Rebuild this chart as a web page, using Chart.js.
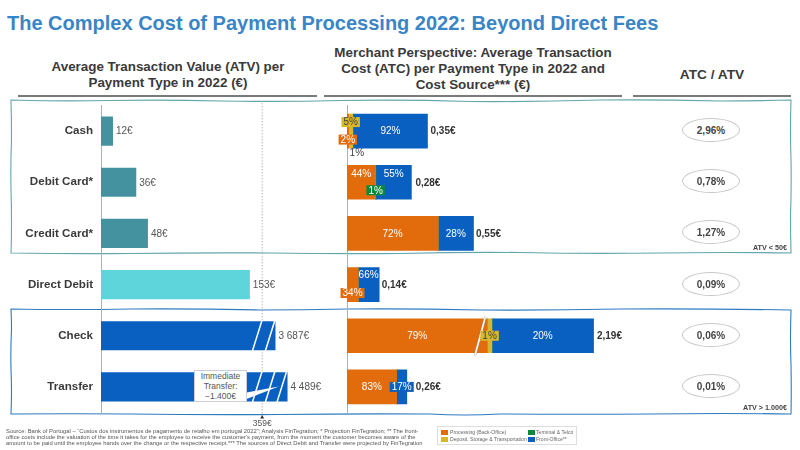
<!DOCTYPE html>
<html>
<head>
<meta charset="utf-8">
<title>Cost of Payment Processing 2022</title>
<script src="https://cdn.jsdelivr.net/npm/chart.js@4"></script>
<style>
    html, body { margin: 0; padding: 0; background: #fff; }
    body { position: relative; width: 800px; height: 450px; overflow: hidden; font-family: "Liberation Sans", Arial, sans-serif; color: #333; }
    canvas { position: absolute; left: 0; top: 0; }
    h1 { position: absolute; left: 7px; top: 11px; margin: 0; font-size: 20px; line-height: 24px; color: #3a85c6; white-space: nowrap; }
    .head { position: absolute; text-align: center; font-weight: bold; font-size: 13.4px; line-height: 16px; color: #3a3a3a; white-space: nowrap; }
    .rule { position: absolute; top: 95px; height: 2px; background: #7a7a7a; }
    .ratio { position: absolute; left: 682px; width: 58px; height: 24px; line-height: 23px; border: 1px solid #c8c8c8; border-radius: 50%; box-sizing: border-box; text-align: center; font-size: 10px; font-weight: bold; color: #444; background: #fff; }
    .tag { position: absolute; right: 13px; font-size: 7.2px; font-weight: bold; color: #444; }
    .callout { position: absolute; left: 194px; top: 370px; width: 53px; height: 32px; background: #fff; border: 1px solid #ccd; box-sizing: border-box; text-align: center; font-size: 8.5px; line-height: 10px; color: #555; }
    .foot { position: absolute; left: 6px; top: 428px; font-size: 5.83px; line-height: 6px; color: #555; white-space: nowrap; }
    .legend { position: absolute; left: 437px; top: 426px; width: 140px; height: 19px; border: 1px solid #ddd; box-sizing: border-box; }
    .legend span { position: absolute; font-size: 5.1px; line-height: 7px; color: #666; white-space: nowrap; }
    .legend i { position: absolute; width: 7px; height: 5px; }
    svg { position: absolute; left: 0; top: 0; }
</style>
</head>
<body>
<h1>The Complex Cost of Payment Processing 2022: Beyond Direct Fees</h1>

<div class="head" style="left:18px;width:300px;top:59px">Average Transaction Value (ATV) per<br>Payment Type in 2022 (€)</div>
<div class="head" style="left:324px;width:298px;top:45px">Merchant Perspective: Average Transaction<br>Cost (ATC) per Payment Type in 2022 and<br>Cost Source*** (€)</div>
<div class="head" style="left:633px;width:158px;top:67px;font-size:13.7px">ATC / ATV</div>
<div class="rule" style="left:18px;width:299px"></div>
<div class="rule" style="left:324px;width:298px"></div>
<div class="rule" style="left:633px;width:158px"></div>

<svg width="800" height="450" fill="none">
    <path stroke="#62a6ae" stroke-width="1.1" d="M11 100 Q60 101.5 110 100.5 Q165 99.5 220 101 Q280 102 340 100.5 Q405 99.5 470 101.5 Q535 102 600 100 Q660 99.5 720 101 Q755 101 791 100 Q790 130 791 160 Q791.5 190 790.5 215 Q790.5 235 791 253 Q725 252 660 253 Q590 254 520 252.5 Q460 252 400 253.5 Q335 254 270 253 Q200 252.5 130 253.5 Q70 254 11 253 Q12 225 11 190 Q10.5 165 11.5 140 Q11.5 120 11 100 Z"/>
    <path stroke="#2e7cc0" stroke-width="1.1" d="M11 309 Q70 310 130 309 Q195 308.5 260 310 Q305 310 347 309 Q415 308.5 480 310 Q550 310.5 620 309 Q705 308.5 791 310 Q790 340 791 365 Q791.5 390 791 414 Q720 413 650 414 Q575 414.5 500 414 Q465 416 430 414 Q355 413.5 280 414.5 Q205 415 130 414 Q70 413.5 11 414 Q12 390 11 370 Q10.5 350 11.5 330 Q11.5 318 11 309 Z"/>
</svg>

<canvas id="atv-chart" width="800" height="450"></canvas>
<canvas id="atc-chart" width="800" height="450"></canvas>

<div class="callout">Immediate<br>Transfer:<br>−1.400€</div>
<div id="ratios"></div>
<div class="tag" style="top:243px">ATV &lt; 50€</div>
<div class="tag" style="top:403px">ATV &gt; 1.000€</div>

<div class="foot">Source: Bank of Portugal – “Custos dos instrumentos de pagamento de retalho em portugal 2022”; Analysis FinTegration; * Projection FinTegration; ** The front-<br>office costs include the valuation of the time it takes for the employee to receive the customer's payment, from the moment the customer becomes aware of the<br>amount to be paid until the employee hands over the change or the respective receipt.*** The sources of Direct Debit and Transfer were projected by FinTegration</div>
<div class="legend" id="legend"></div>

<script>
const categories = ['Cash', 'Debit Card*', 'Credit Card*', 'Direct Debit', 'Check', 'Transfer'];

// ATV: the axis is broken for Check and Transfer, so drawn length and label differ
const atvDrawn = [12, 36, 48, 153, 179.4, 191.8];
const atvLabels = ['12€', '36€', '48€', '153€', '3 687€', '4 489€'];
const atvMeanDrawn = 166;
const atvMeanLabel = '359€';
const breaksCheck = [155.7, 169];
const breaksTransfer = [155.7, 169, 181];
const tailEnd = 183;

// ATC in € per cost source (Check drawn on a broken axis too)
const processing = [0.007, 0.123, 0.396, 0.048, 0.61, 0.216];
const deposit = [0.018, 0, 0, 0, 0.02, 0];
const terminal = [0.003, 0.003, 0, 0, 0, 0];
const frontOffice = [0.322, 0.154, 0.154, 0.092, 0.442, 0.044];
const atcTotals = ['0,35€', '0,28€', '0,55€', '0,14€', '2,19€', '0,26€'];
const atcBreak = 0.556;

const processingPct = ['2%', '44%', '72%', '34%', '79%', '83%'];
const depositPct = ['5%', '', '', '', '1%', ''];
const terminalPct = ['1%', '1%', '', '', '', ''];
const frontOfficePct = ['92%', '55%', '28%', '66%', '20%', '17%'];

const ratios = ['2,96%', '0,78%', '1,27%', '0,09%', '0,06%', '0,01%'];

const TEAL = '#44929f', AQUA = '#5dd5da', BLUE = '#0a60c0';
const ORANGE = '#e26c0c', YELLOW = '#d8b72a', GREEN = '#0b8a3c';
const FONT = '"Liberation Sans", Arial, sans-serif';

const atvColors = [TEAL, TEAL, TEAL, AQUA, BLUE, BLUE];
const ROW_TOP = 105.5, ROW_BOTTOM = 37.5;

function slash(ctx, x1, y1, x2, y2, outline) {
    ctx.lineCap = 'butt';
    if (outline) {
        ctx.strokeStyle = '#999';
        ctx.lineWidth = 2.2;
        ctx.beginPath(); ctx.moveTo(x1, y1); ctx.lineTo(x2, y2); ctx.stroke();
    }
    ctx.strokeStyle = '#fff';
    ctx.lineWidth = 1.5;
    ctx.beginPath(); ctx.moveTo(x1, y1); ctx.lineTo(x2, y2); ctx.stroke();
}

const atvDecor = {
    id: 'atvDecor',
    beforeDatasetsDraw(chart) {
        const { ctx, scales: { x } } = chart;
        const px = x.getPixelForValue(atvMeanDrawn);
        ctx.save();
        ctx.strokeStyle = '#a8a8a8';
        ctx.lineWidth = 0.8;
        ctx.setLineDash([1.5, 1.5]);
        ctx.beginPath(); ctx.moveTo(px, 103); ctx.lineTo(px, 415); ctx.stroke();
        ctx.restore();
    },
    afterDatasetsDraw(chart) {
        const { ctx, scales: { x } } = chart;
        const bars = chart.getDatasetMeta(0).data;
        ctx.save();
        // axis break marks
        [[4, breaksCheck], [5, breaksTransfer]].forEach(([row, list]) => {
            const b = bars[row];
            list.forEach((v) => {
                const p = x.getPixelForValue(v);
                slash(ctx, p, b.y + 16, p + 10, b.y - 16, false);
            });
        });
        // callout tail over the Transfer bar
        const t = bars[5];
        ctx.fillStyle = '#fff';
        ctx.beginPath();
        ctx.moveTo(244, t.y + 6);
        ctx.lineTo(x.getPixelForValue(tailEnd), t.y - 0.5);
        ctx.lineTo(244, t.y + 13);
        ctx.closePath();
        ctx.fill();
        // value labels
        ctx.font = '10px ' + FONT;
        ctx.fillStyle = '#555';
        ctx.textBaseline = 'middle';
        bars.forEach((b, i) => ctx.fillText(atvLabels[i], b.x + 3.3, b.y + 0.5));
        // mean marker below the plot
        const px = x.getPixelForValue(atvMeanDrawn);
        ctx.fillStyle = '#333';
        ctx.beginPath();
        ctx.moveTo(px, 415); ctx.lineTo(px - 2, 418.5); ctx.lineTo(px + 2, 418.5);
        ctx.closePath(); ctx.fill();
        ctx.fillStyle = '#555';
        ctx.font = '8.5px ' + FONT;
        ctx.textAlign = 'center';
        ctx.fillText(atvMeanLabel, px, 424);
        ctx.restore();
    },
};

new Chart(document.getElementById('atv-chart'), {
    type: 'bar',
    data: {
        labels: categories,
        datasets: [{ data: atvDrawn, backgroundColor: atvColors, barThickness: 28.5, borderWidth: 0 }],
    },
    options: {
        indexAxis: 'y',
        responsive: false,
        animation: false,
        layout: { padding: { left: 0, right: 466, top: ROW_TOP, bottom: ROW_BOTTOM } },
        plugins: { legend: { display: false }, tooltip: { enabled: false } },
        scales: {
            x: { display: false, min: 0, max: 240 },
            y: {
                afterFit: (s) => { s.width = 101; },
                grid: { display: false },
                border: { display: true, color: '#b0b0b0', width: 1 },
                ticks: { color: '#3a3a3a', padding: 0, font: { family: FONT, size: 11.6, weight: 'bold' } },
            },
        },
    },
    plugins: [atvDecor],
});

// percent labels: [text colour, badge colour, dx, dy] per segment that needs moving off its centre
const PLAIN = ['#fff', null, 0, 0];
const pctStyle = [
    [['#fff', ORANGE, 0, 8.5], ['#444', YELLOW, 0, -9], ['#444', null, 3.7, 22], PLAIN],
    [['#fff', null, 0, -8.5], null, ['#fff', GREEN, 0, 8], ['#fff', null, 0, -8.5]],
    [PLAIN, null, null, PLAIN],
    [['#fff', ORANGE, 0, 8.5], null, null, ['#fff', null, 0, -9.5]],
    [PLAIN, ['#444', YELLOW, 0, 0], null, PLAIN],
    [PLAIN, null, null, ['#fff', BLUE, 0, 0]],
];
const totalGaps = [3, 4, 2.5, 2.5, 3.4, 9];

const atcDecor = {
    id: 'atcDecor',
    afterDatasetsDraw(chart) {
        const { ctx, scales: { x } } = chart;
        ctx.save();
        ctx.textBaseline = 'middle';
        // broken Check bar
        const c = chart.getDatasetMeta(0).data[4];
        const p = x.getPixelForValue(atcBreak);
        slash(ctx, p, c.y + 20, p + 10.5, c.y - 19, true);
        // segment percentages
        chart.data.datasets.forEach((ds, di) => {
            chart.getDatasetMeta(di).data.forEach((b, row) => {
                const txt = ds.pct[row];
                const st = pctStyle[row][di];
                if (!txt || !st) return;
                const cx = (b.base + b.x) / 2 + st[2];
                const cy = b.y + st[3];
                ctx.font = '10px ' + FONT;
                ctx.textAlign = 'center';
                if (st[1]) {
                    const w = ctx.measureText(txt).width + 4;
                    ctx.fillStyle = st[1];
                    ctx.fillRect(cx - w / 2, cy - 5, w, 10);
                }
                ctx.fillStyle = st[0];
                ctx.fillText(txt, cx, cy + 0.5);
            });
        });
        // totals next to the stack
        const last = chart.getDatasetMeta(3).data;
        ctx.font = 'bold 10px ' + FONT;
        ctx.fillStyle = '#333';
        ctx.textAlign = 'left';
        last.forEach((b, i) => ctx.fillText(atcTotals[i], b.x + totalGaps[i], b.y + 0.5));
        ctx.restore();
    },
};

const atcDatasets = [
    { label: 'Processing (Back-Office)', data: processing, pct: processingPct, backgroundColor: ORANGE },
    { label: 'Deposit, Storage & Transportation', data: deposit, pct: depositPct, backgroundColor: YELLOW },
    { label: 'Terminal & Telco', data: terminal, pct: terminalPct, backgroundColor: GREEN },
    { label: 'Front-Office**', data: frontOffice, pct: frontOfficePct, backgroundColor: BLUE },
];
atcDatasets.forEach((d) => { d.barThickness = 34; d.borderWidth = 0; });

new Chart(document.getElementById('atc-chart'), {
    type: 'bar',
    data: { labels: categories, datasets: atcDatasets },
    options: {
        indexAxis: 'y',
        responsive: false,
        animation: false,
        layout: { padding: { left: 0, right: 108, top: ROW_TOP, bottom: ROW_BOTTOM } },
        plugins: { legend: { display: false }, tooltip: { enabled: false } },
        scales: {
            x: { display: false, stacked: true, min: 0, max: 1.5 },
            y: {
                stacked: true,
                afterFit: (s) => { s.width = 347; },
                grid: { display: false },
                border: { display: true, color: '#b0b0b0', width: 1 },
                ticks: { display: false },
            },
        },
    },
    plugins: [atcDecor],
});

// ratio ovals
const rowCentres = [129.5, 181, 232, 284, 335, 386];
document.getElementById('ratios').innerHTML = ratios
    .map((r, i) => `<div class="ratio" style="top:${rowCentres[i] - 12}px">${r}</div>`).join('');

// legend
const legendSpots = [[3, 3, 12, 1.5], [3, 10, 12, 8.5], [90, 3, 98, 1.5], [90, 10, 98, 8.5]];
document.getElementById('legend').innerHTML = atcDatasets.map((ds, i) => {
    const [sx, sy, tx, ty] = legendSpots[i];
    return `<i style="left:${sx}px;top:${sy}px;background:${ds.backgroundColor}"></i><span style="left:${tx}px;top:${ty}px">${ds.label.replace('&', '&amp;')}</span>`;
}).join('');
</script>
</body>
</html>
